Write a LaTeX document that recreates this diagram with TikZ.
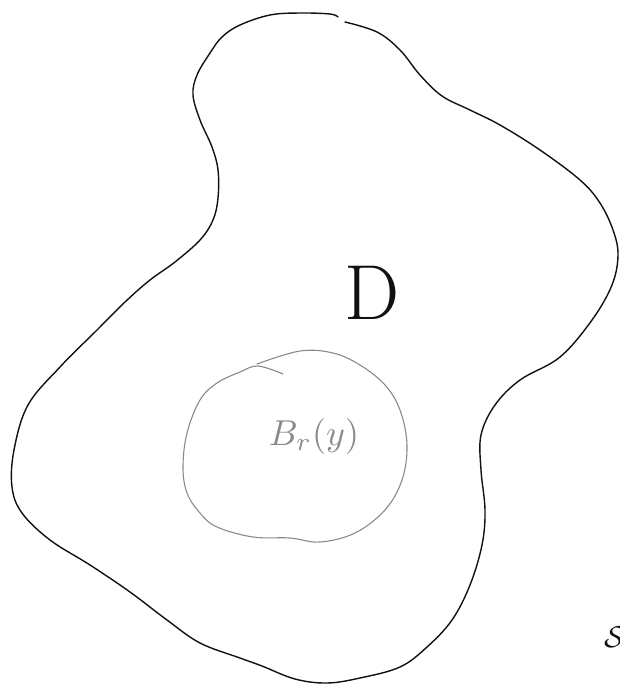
\documentclass[tikz,border=0pt]{standalone}
\usetikzlibrary{positioning}
\definecolor{cink}{HTML}{111111}
\definecolor{cpencil}{HTML}{8A8A8A}
\newcommand{\bigmath}[2]{\scalebox{#1}{$#2$}}
\tikzset{
  every picture/.style={line width=1.3pt, line cap=round, line join=round},
  outline/.style={draw=cink, line width=1.4pt},
  ball/.style={draw=cpencil, line width=1.1pt},
  bigletter/.style={font=\fontsize{78}{78}\selectfont, text=cink, inner sep=0pt},
  balllabel/.style={text=cpencil, inner sep=0pt},
  cornermark/.style={text=cink, inner sep=0pt},
}

\begin{document}
\begin{tikzpicture}[x=1pt, y=-1pt]
  \useasboundingbox (0,0) rectangle (620,686);
  % the domain D
  \draw[outline] plot[smooth, tension=0.6] coordinates {
    (345,22) (377,32) (400,50) (420,75) (442,96) (470,110) (500,125)
    (540,150) (580,180) (600,203) (613,230) (618,255) (612,285)
    (592,320) (560,357) (520,380) (495,405) (481,435) (481,470)
    (485,510) (482,545) (470,585) (452,620) (427,647) (400,667)
    (360,678) (327,683) (295,679) (262,666) (240,658) (200,643)
    (167,620) (130,592) (90,565) (50,540) (22,513) (12,487) (14,450)
    (28,405) (60,367) (97,330) (125,302) (150,280) (175,262) (200,240)
    (213,220) (218,198) (218,170) (212,147) (200,120) (193,95)
    (197,75) (210,53) (222,37) (240,25) (270,15) (300,13) (330,14) (338,17)};
  % the ball B_r(y)
  \draw[ball] plot[smooth, tension=0.6] coordinates {
    (257,364) (300,351) (333,353) (360,365) (385,385) (400,410)
    (407,445) (402,480) (385,510) (355,533) (320,542) (290,538)
    (253,537) (217,527) (200,513) (187,493) (183,467) (187,433)
    (200,400) (217,383) (240,372) (258,366) (283,374)};
  % labels
  \node[bigletter] (dom) at (372,293) {D};
  \node[balllabel] (lab) at (314,436) {\bigmath{3.6}{B_r(y)}};
  \node[cornermark, anchor=west] (mark) at (604,637) {\bigmath{3}{\mathcal{S}}};
\end{tikzpicture}
\end{document}
